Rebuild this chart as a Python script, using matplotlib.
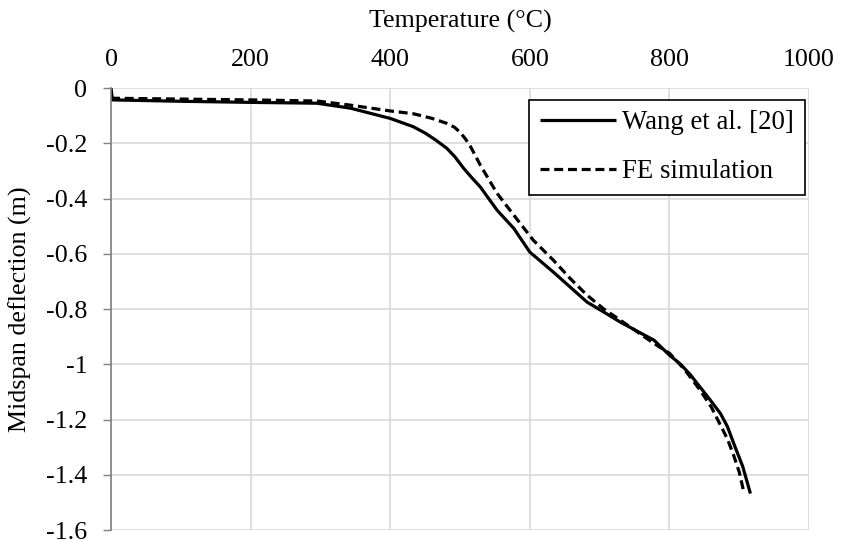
import matplotlib.pyplot as plt

# Midspan deflection vs temperature
temp_wang = [0, 2, 100, 200, 295, 343, 400, 433, 450, 465, 481, 493, 505, 517,
             529, 553, 577, 600, 634, 682, 706, 730, 778, 800, 816, 830, 844,
             858, 873, 883, 892, 905, 916]
defl_wang = [0.0, -0.043, -0.048, -0.052, -0.055, -0.073, -0.11, -0.140, -0.163,
             -0.188, -0.218, -0.25, -0.29, -0.325, -0.358, -0.442, -0.508, -0.594,
             -0.667, -0.775, -0.811, -0.848, -0.913, -0.967, -1.0, -1.038, -1.083,
             -1.128, -1.178, -1.225, -1.286, -1.37, -1.468]

temp_fe = [0, 100, 200, 295, 343, 400, 433, 460, 481, 492, 500, 508, 515, 522,
           529, 553, 577, 605, 634, 658, 682, 706, 730, 778, 800, 822, 844, 860,
           873, 883, 892, 900, 907]
defl_fe = [-0.037, -0.040, -0.043, -0.047, -0.062, -0.083, -0.093, -0.11, -0.128,
           -0.142, -0.16, -0.185, -0.212, -0.245, -0.279, -0.381, -0.46, -0.551,
           -0.624, -0.69, -0.75, -0.8, -0.841, -0.925, -0.96, -1.02, -1.094,
           -1.155, -1.22, -1.27, -1.33, -1.39, -1.468]

x_ticks = [0, 200, 400, 600, 800, 1000]
y_ticks = [0, -0.2, -0.4, -0.6, -0.8, -1, -1.2, -1.4, -1.6]
y_labels = ["0", "-0.2", "-0.4", "-0.6", "-0.8", "-1", "-1.2", "-1.4", "-1.6"]

plt.rcParams['font.family'] = ['Liberation Serif', 'DejaVu Serif']
plt.rcParams['font.size'] = 18.7

fig = plt.figure(figsize=(8.41, 5.40), dpi=100)
ax = fig.add_axes([0.132, 0.0185, 0.830, 0.8185])

ax.plot(temp_wang, defl_wang, color="black", lw=2.3, label="Wang et al. [20]",
        solid_capstyle="butt", solid_joinstyle="round")
ax.plot(temp_fe, defl_fe, color="black", lw=2.3, ls=(0, (2.8, 1.5)),
        label="FE simulation")

ax.set_xlim(0, 1000)
ax.set_ylim(-1.6, 0)
ax.set_xticks(x_ticks)
ax.set_yticks(y_ticks)
ax.set_yticklabels(y_labels)

# x axis sits on top, no tick marks
ax.xaxis.set_ticks_position("top")
ax.xaxis.set_label_position("top")
ax.tick_params(axis="x", length=0, pad=12)
ax.tick_params(axis="y", length=6, width=1, color="#808080", pad=11, direction="out")

ax.set_xlabel("Temperature (°C)", labelpad=16)
ax.set_ylabel("Midspan deflection (m)", labelpad=10)

ax.grid(True, color="#d9d9d9", lw=1.2)
ax.set_axisbelow(True)
for side in ["top", "right", "bottom"]:
    ax.spines[side].set_visible(False)
ax.spines["left"].set_color("#808080")
ax.spines["left"].set_linewidth(1.2)

leg = ax.legend(loc="upper right", bbox_to_anchor=(0.9936, 0.9737), borderaxespad=0,
                fancybox=False, edgecolor="black", framealpha=1, fontsize=19.3,
                handlelength=2.85, handletextpad=0.22, borderpad=0.4,
                labelspacing=0.88)
leg.get_frame().set_linewidth(1.2)

fig.savefig("out.png", dpi=100)
